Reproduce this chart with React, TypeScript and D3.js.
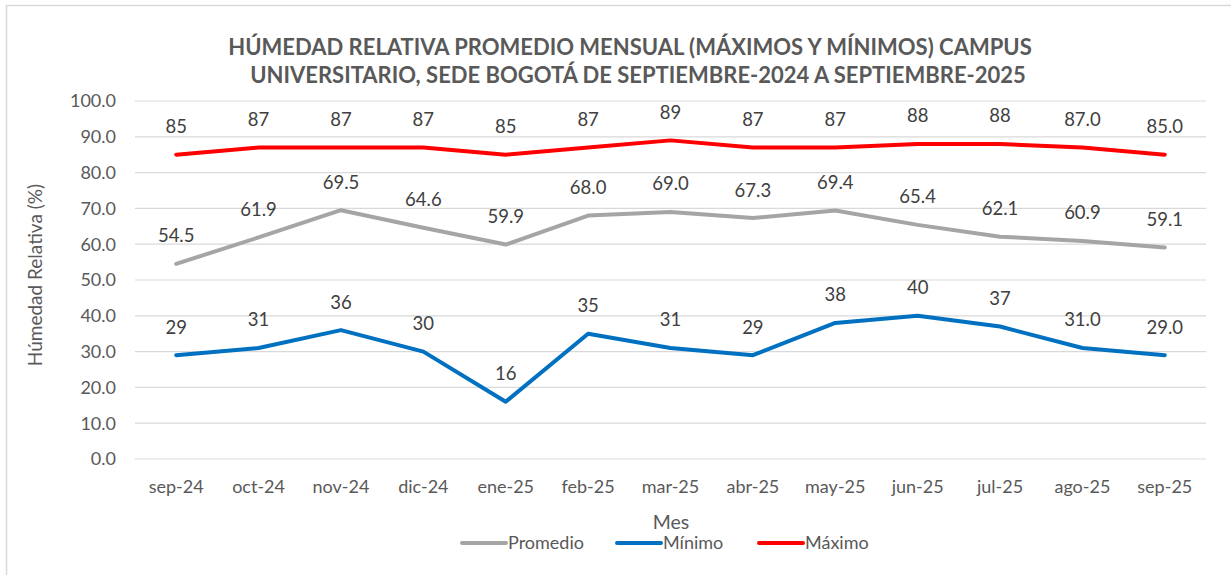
import * as d3 from "d3";

const months = ["sep-24", "oct-24", "nov-24", "dic-24", "ene-25", "feb-25", "mar-25", "abr-25", "may-25", "jun-25", "jul-25", "ago-25", "sep-25"];
const promedio = [54.5, 61.9, 69.5, 64.6, 59.9, 68.0, 69.0, 67.3, 69.4, 65.4, 62.1, 60.9, 59.1];
const minimo = [29, 31, 36, 30, 16, 35, 31, 29, 38, 40, 37, 31.0, 29.0];
const maximo = [85, 87, 87, 87, 85, 87, 89, 87, 87, 88, 88, 87.0, 85.0];
// labels as printed in the chart
const promLabels = ["54.5", "61.9", "69.5", "64.6", "59.9", "68.0", "69.0", "67.3", "69.4", "65.4", "62.1", "60.9", "59.1"];
const minLabels = ["29", "31", "36", "30", "16", "35", "31", "29", "38", "40", "37", "31.0", "29.0"];
const maxLabels = ["85", "87", "87", "87", "85", "87", "89", "87", "87", "88", "88", "87.0", "85.0"];
const yTicks = [0, 10, 20, 30, 40, 50, 60, 70, 80, 90, 100];

const W = 1231;
const H = 575;
const FONT = "Lato, 'Open Sans', sans-serif";
const TXT = "#595959";

export default function App() {
  const x = d3.scaleBand().domain(months).range([135, 1206]);
  const y = d3.scaleLinear().domain([0, 100]).range([459, 101]);
  const cx = (m: string) => (x(m) as number) + x.bandwidth() / 2;

  const line = d3
    .line<number>()
    .x((_, i) => cx(months[i]))
    .y((d) => y(d));

  const series = [
    { name: "Promedio", values: promedio, labels: promLabels, color: "#a5a5a5" },
    { name: "Mínimo", values: minimo, labels: minLabels, color: "#0070c0" },
    { name: "Máximo", values: maximo, labels: maxLabels, color: "#ff0000" },
  ];

  const legend = [
    { name: "Promedio", color: "#a5a5a5", x: 462 },
    { name: "Mínimo", color: "#0070c0", x: 617 },
    { name: "Máximo", color: "#ff0000", x: 759 },
  ];

  return (
    <svg width={W} height={H} style={{ position: "absolute", left: 0, top: 0, background: "#fff" }} fontFamily={FONT}>
      <rect x={6.5} y={5.5} width={1240} height={600} fill="#fff" stroke="#d9d9d9" strokeWidth={1.5} />

      <text x={630} y={55} textAnchor="middle" fontSize={22} fontWeight={700} fill={TXT}>
        HÚMEDAD RELATIVA PROMEDIO MENSUAL (MÁXIMOS Y MÍNIMOS) CAMPUS
      </text>
      <text x={638} y={83} textAnchor="middle" fontSize={22} fontWeight={700} fill={TXT}>
        UNIVERSITARIO, SEDE BOGOTÁ DE SEPTIEMBRE-2024 A SEPTIEMBRE-2025
      </text>

      {yTicks.map((t) => (
        <g key={t}>
          <line x1={135} x2={1206} y1={y(t)} y2={y(t)} stroke="#d9d9d9" strokeWidth={1.2} />
          <text x={116} y={y(t)} dy="0.35em" textAnchor="end" fontSize={18} fill={TXT}>
            {t.toFixed(1)}
          </text>
        </g>
      ))}

      {months.map((m) => (
        <text key={m} x={cx(m)} y={493} textAnchor="middle" fontSize={18} fill={TXT}>
          {m}
        </text>
      ))}

      <text x={671} y={529} textAnchor="middle" fontSize={19.5} fill={TXT}>Mes</text>
      <text transform="translate(42,275) rotate(-90)" textAnchor="middle" fontSize={19} fill={TXT}>
        Húmedad Relativa (%)
      </text>

      {series.map((s) => (
        <g key={s.name}>
          <path d={line(s.values) || ""} fill="none" stroke={s.color} strokeWidth={4} strokeLinejoin="round" strokeLinecap="round" />
          {s.values.map((v, i) => (
            <text key={i} x={cx(months[i])} y={y(v) - 28} dy="0.35em" textAnchor="middle" fontSize={18.5} fill="#404040">
              {s.labels[i]}
            </text>
          ))}
        </g>
      ))}

      {legend.map((l) => (
        <g key={l.name}>
          <line x1={l.x} x2={l.x + 44} y1={543} y2={543} stroke={l.color} strokeWidth={4} strokeLinecap="round" />
          <text x={l.x + 46} y={543} dy="0.35em" fontSize={18} fill={TXT}>{l.name}</text>
        </g>
      ))}
    </svg>
  );
}
